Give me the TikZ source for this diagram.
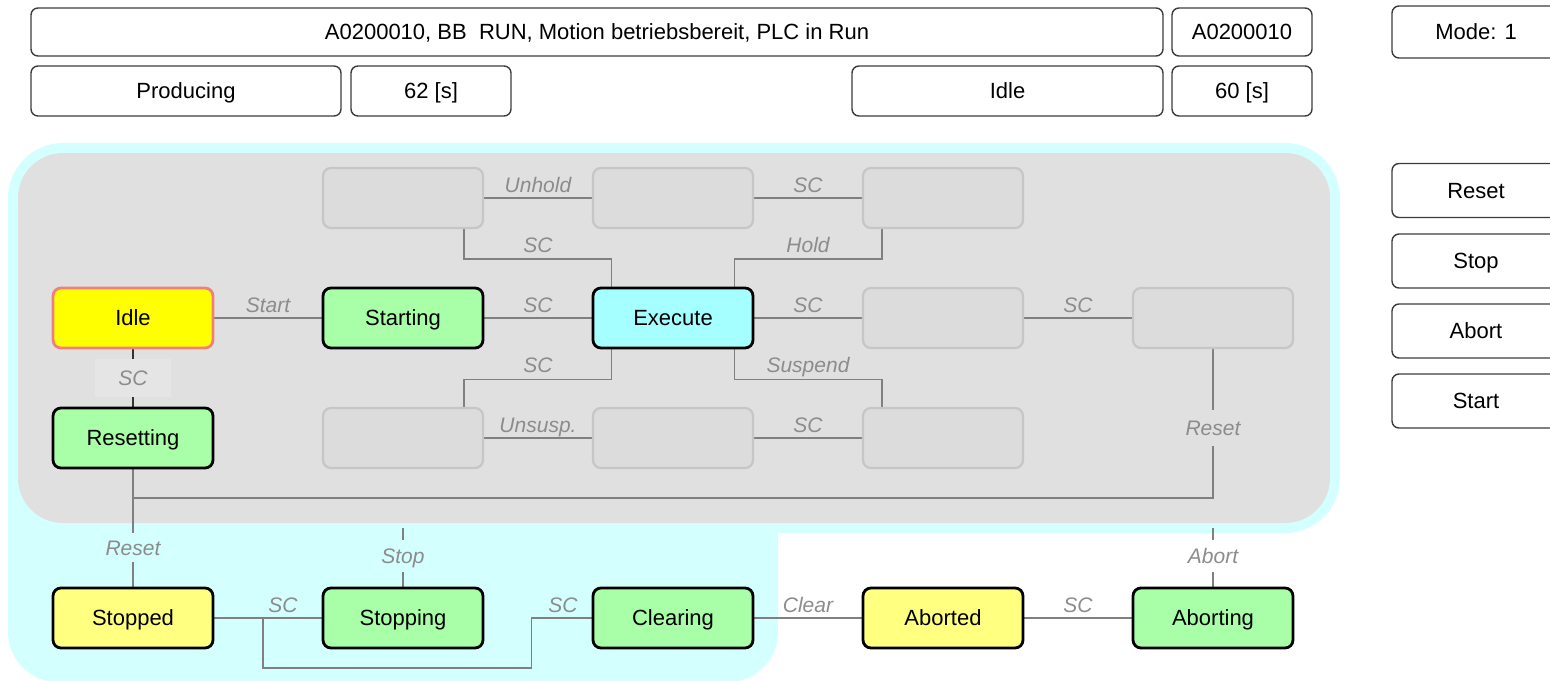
\documentclass[tikz,border=0pt]{standalone}
\usepackage{fontspec}
\setmainfont{Liberation Sans}
\definecolor{cyanbg}{HTML}{D4FFFF}
\definecolor{graybg}{HTML}{E0E0E0}
\definecolor{ghostfill}{HTML}{DCDCDC}
\definecolor{ghostdraw}{HTML}{C6C6C6}
\definecolor{greenst}{HTML}{A8FFA8}
\definecolor{cyanst}{HTML}{A6FFFF}
\definecolor{yellowst}{HTML}{FFFF80}
\definecolor{idlefill}{HTML}{FFFF00}
\definecolor{idledraw}{HTML}{F08080}
\definecolor{conncol}{HTML}{808080}
\definecolor{lblcol}{HTML}{8C8C8C}
\definecolor{infodraw}{HTML}{3C3C3C}
\definecolor{ticklbl}{HTML}{E5E5E5}
\pgfdeclarelayer{back}
\pgfdeclarelayer{mid}
\pgfsetlayers{back,mid,main}
\tikzset{
  stbox/.style={rectangle, rounded corners=8pt, minimum width=160pt, minimum height=60pt,
    inner sep=0pt, line width=2.8pt, draw=black, text height=15.8pt, text depth=0pt,
    font=\fontsize{22}{26}\selectfont},
  ghost/.style={stbox, draw=ghostdraw, fill=ghostfill, line width=2.2pt},
  info/.style={rectangle, rounded corners=7pt, draw=infodraw, line width=1.4pt, fill=white,
    inner sep=0pt, text height=15.8pt, text depth=0pt, font=\fontsize{22}{26}\selectfont},
  conn/.style={draw=conncol, line width=1.4pt},
  tick/.style={draw=black!80, line width=1.4pt},
  lbl/.style={font=\fontsize{21}{25}\selectfont\itshape, text=lblcol, anchor=base, inner sep=1pt},
  vlbl/.style={font=\fontsize{21}{25}\selectfont\itshape, text=lblcol, anchor=center,
    inner sep=0pt, text height=15pt, text depth=0pt},
}
\begin{document}
\begin{tikzpicture}[x=1pt,y=-1pt]
\useasboundingbox (0,0) rectangle (1550,680);
\clip (0,0) rectangle (1550,680);

% backgrounds
\begin{pgfonlayer}{back}
\fill[cyanbg, rounded corners=55pt] (8,143) rectangle (1340,533);
\fill[cyanbg, rounded corners=50pt] (8,300) rectangle (778,682);
\fill[graybg, rounded corners=45pt] (18,153) rectangle (1330,523);
\end{pgfonlayer}

% info boxes
\node[info, minimum width=1132pt, minimum height=48pt] (status) at (597,32) {A0200010, BB~ RUN, Motion betriebsbereit, PLC in Run};
\node[info, minimum width=140pt, minimum height=48pt] (code) at (1242,32) {A0200010};
\node[info, minimum width=168pt, minimum height=52pt] (mode) at (1476,32) {Mode: 1};
\node[info, minimum width=310pt, minimum height=50pt] (prod) at (186,91) {Producing};
\node[info, minimum width=160pt, minimum height=50pt] (t62) at (431,91) {62 [s]};
\node[info, minimum width=311pt, minimum height=50pt] (idlebox) at (1007.5,91) {Idle};
\node[info, minimum width=140pt, minimum height=50pt] (t60) at (1242,91) {60 [s]};

% buttons
\node[info, minimum width=168pt, minimum height=54pt] (bReset) at (1476,190.5) {Reset};
\node[info, minimum width=168pt, minimum height=54pt] (bStop) at (1476,261) {Stop};
\node[info, minimum width=168pt, minimum height=54pt] (bAbort) at (1476,331) {Abort};
\node[info, minimum width=168pt, minimum height=54pt] (bStart) at (1476,401) {Start};

% states
\node[stbox, fill=idlefill, draw=idledraw] (idle) at (133,318) {Idle};
\node[stbox, fill=greenst] (starting) at (403,318) {Starting};
\node[stbox, fill=cyanst] (execute) at (673,318) {Execute};
\node[ghost] (g24) at (943,318) {};
\node[ghost] (g25) at (1213,318) {};
\node[ghost] (g12) at (403,198) {};
\node[ghost] (g13) at (673,198) {};
\node[ghost] (g14) at (943,198) {};
\node[stbox, fill=greenst] (resetting) at (133,438) {Resetting};
\node[ghost] (g32) at (403,438) {};
\node[ghost] (g33) at (673,438) {};
\node[ghost] (g34) at (943,438) {};
\node[stbox, fill=yellowst] (stopped) at (133,618) {Stopped};
\node[stbox, fill=greenst] (stopping) at (403,618) {Stopping};
\node[stbox, fill=greenst] (clearing) at (673,618) {Clearing};
\node[stbox, fill=yellowst] (aborted) at (943,618) {Aborted};
\node[stbox, fill=greenst] (aborting) at (1213,618) {Aborting};

% labels
\node[lbl] (lUnhold) at (538,192.5) {Unhold};
\node[lbl] (lSC1) at (808,192.5) {SC};
\node[lbl] (lSC2) at (538,252.5) {SC};
\node[lbl] (lHold) at (808,252.5) {Hold};
\node[lbl] (lStart) at (268,312.5) {Start};
\node[lbl] (lSC3) at (538,312.5) {SC};
\node[lbl] (lSC4) at (808,312.5) {SC};
\node[lbl] (lSC5) at (1078,312.5) {SC};
\node[lbl] (lSC6) at (538,372.5) {SC};
\node[lbl] (lSusp) at (808,372.5) {Suspend};
\node[lbl] (lUnsusp) at (538,432.5) {Unsusp.};
\node[lbl] (lSC7) at (808,432.5) {SC};
\node[lbl] (lSC8) at (283,612.5) {SC};
\node[lbl] (lSC9) at (563,612.5) {SC};
\node[lbl] (lClear) at (808,612.5) {Clear};
\node[lbl] (lSC10) at (1078,612.5) {SC};

\node[vlbl, fill=ticklbl, minimum width=76pt, minimum height=38pt] (lIR) at (133,378) {SC};
\node[vlbl, minimum height=36pt] (lR2) at (1213,428) {Reset};
\node[vlbl, minimum height=29pt] (lR1) at (133,547.5) {Reset};
\node[vlbl, minimum height=32pt] (lStop) at (403,556) {Stop};
\node[vlbl, minimum height=32pt] (lAbort) at (1213,556) {Abort};

\coordinate (jr) at (133,498);
\coordinate (jc) at (263,618);
\coordinate (cs) at (403,528);
\coordinate (ca) at (1213,528);

% connectors
\begin{pgfonlayer}{mid}
\draw[conn] (g12.east) -- (g13.west);
\draw[conn] (g13.east) -- (g14.west);
\draw[conn] (idle.east) -- (starting.west);
\draw[conn] (starting.east) -- (execute.west);
\draw[conn] (execute.east) -- (g24.west);
\draw[conn] (g24.east) -- (g25.west);
\draw[conn] (g32.east) -- (g33.west);
\draw[conn] (g33.east) -- (g34.west);
\draw[conn] ([xshift=-20pt]g12.south east) -- ++(0,30) -| ([xshift=20pt]execute.north west);
\draw[conn] ([xshift=20pt]g14.south west) -- ++(0,30) -| ([xshift=-20pt]execute.north east);
\draw[conn] ([xshift=20pt]execute.south west) -- ++(0,30) -| ([xshift=-20pt]g32.north east);
\draw[conn] ([xshift=-20pt]execute.south east) -- ++(0,30) -| ([xshift=20pt]g34.north west);
\draw[tick] (idle.south) -- (lIR.north);
\draw[tick] (lIR.south) -- (resetting.north);
\draw[conn] (g25.south) -- (lR2.north);
\draw[conn] (lR2.south) |- (jr);
\draw[conn] (resetting.south) -- (jr) -- (lR1.north);
\draw[conn] (lR1.south) -- (stopped.north);
\draw[conn] (cs) -- (lStop.north);
\draw[conn] (lStop.south) -- (stopping.north);
\draw[conn] (ca) -- (lAbort.north);
\draw[conn] (lAbort.south) -- (aborting.north);
\draw[conn] (stopped.east) -- (stopping.west);
\draw[conn] (clearing.west) -- ++(-60,0) -- ++(0,50) -| (jc);
\draw[conn] (clearing.east) -- (aborted.west);
\draw[conn] (aborted.east) -- (aborting.west);
\end{pgfonlayer}
\end{tikzpicture}
\end{document}
